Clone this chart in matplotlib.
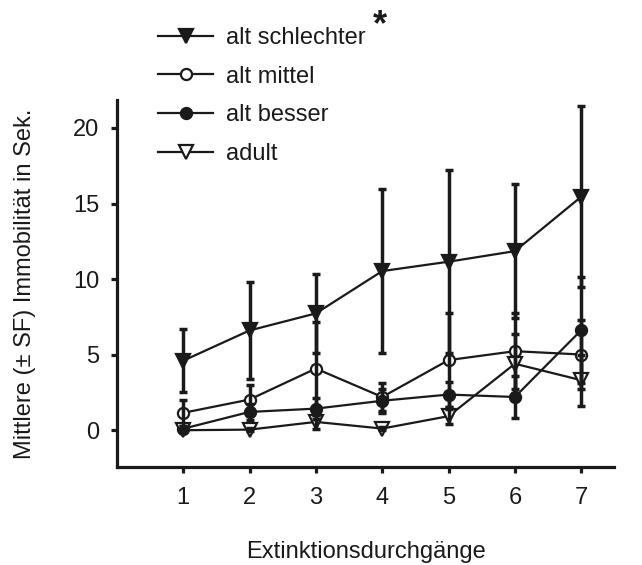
import numpy as np
import matplotlib
matplotlib.use("Agg")
import matplotlib.pyplot as plt

plt.rcParams['font.family'] = ['Liberation Sans', 'DejaVu Sans']

# Extinktionsdurchgänge 1..7
durchgang = [1, 2, 3, 4, 5, 6, 7]

# Mittelwerte und Standardfehler je Gruppe
schlechter = [4.6, 6.6, 7.73, 10.53, 11.15, 11.85, 15.45]
schlechter_sf = [2.1, 3.2, 2.6, 5.4, 6.05, 4.45, 6.0]
mittel = [1.15, 2.03, 4.08, 2.2, 4.64, 5.23, 5.01]
mittel_sf = [0.85, 0.95, 3.1, 0.9, 3.1, 2.5, 2.27]
besser = [0.1, 1.21, 1.43, 1.95, 2.36, 2.2, 6.62]
besser_sf = [0.2, 0.55, 0.67, 0.8, 0.8, 1.4, 3.5]
adult = [0.0, 0.04, 0.55, 0.11, 0.93, 4.4, 3.31]
adult_sf = [0.1, 0.1, 0.45, 0.1, 0.5, 2.0, 1.7]

gruppen = [
    ("alt schlechter", schlechter, schlechter_sf, "v", "#1a1a1a", 9.5),
    ("alt mittel", mittel, mittel_sf, "o", "white", 8),
    ("alt besser", besser, besser_sf, "o", "#1a1a1a", 8),
    ("adult", adult, adult_sf, "v", "white", 9.5),
]

fs = 17
fig = plt.figure(figsize=(6.42, 5.65), dpi=100)
ax = fig.add_axes([0.182, 0.173, 0.775, 0.65])

handles = []
for name, werte, sf, marker, face, ms in gruppen:
    ax.errorbar(durchgang, werte, yerr=sf, fmt="none", ecolor="#1a1a1a",
                elinewidth=2.5, capsize=3, capthick=2.5, zorder=4)
    line, = ax.plot(durchgang, werte, color="#1a1a1a", lw=1.6, marker=marker,
                    markersize=ms, markerfacecolor=face,
                    markeredgecolor="#1a1a1a", markeredgewidth=1.6,
                    label=name, zorder=3)
    handles.append(line)

ax.set_xlim(0.0, 7.5)
ax.set_ylim(-2.45, 21.85)
ax.set_xticks(durchgang)
ax.set_yticks([0, 5, 10, 15, 20])

for side in ["top", "right"]:
    ax.spines[side].set_visible(False)
for side in ["left", "bottom"]:
    ax.spines[side].set_linewidth(2.3)
    ax.spines[side].set_color("#1a1a1a")
ax.tick_params(direction="out", length=4.5, width=2.3, color="#1a1a1a",
               labelsize=fs, labelcolor="#1a1a1a")
ax.tick_params(axis="x", pad=10)
ax.tick_params(axis="y", pad=8)

ax.set_xlabel("Extinktionsdurchgänge", fontsize=fs, color="#1a1a1a", labelpad=23)
ax.set_ylabel("Mittlere (\u00b1 SF) Immobilität in Sek.", fontsize=fs,
              color="#1a1a1a", labelpad=27)

leg = fig.legend(handles=handles, loc="upper left",
                 bbox_to_anchor=(0.213, 0.99), frameon=False, fontsize=fs,
                 handlelength=2.33, handletextpad=0.55, labelspacing=0.71)
for t in leg.get_texts():
    t.set_color("#1a1a1a")

fig.text(0.592, 0.955, "*", fontsize=26, fontweight="bold", color="#1a1a1a",
         ha="center", va="center")

fig.savefig("out.png", dpi=100)
